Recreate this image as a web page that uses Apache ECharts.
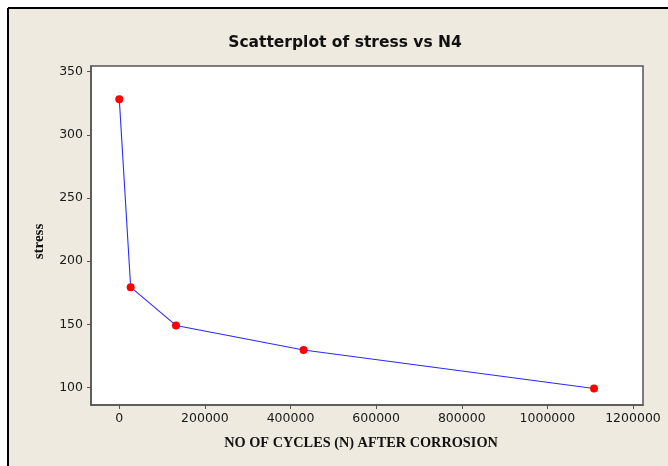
<!DOCTYPE html>
<html>
<head>
<meta charset="utf-8">
<script src="https://cdn.jsdelivr.net/npm/echarts@6/dist/echarts.min.js"></script>
<style>
html,body{margin:0;padding:0;background:#ffffff;}
#chart{width:668px;height:466px;}
</style>
</head>
<body>
<div id="chart"></div>
<script>
// Data
var cycles = [0, 26600, 132400, 430500, 1109000];
var stress = [328.2, 179.4, 149.1, 129.6, 99.2];
var xTicks = [0, 200000, 400000, 600000, 800000, 1000000, 1200000];
var yTicks = [100, 150, 200, 250, 300, 350];

var points = cycles.map(function (c, i) { return [c, stress[i]]; });

var chart = echarts.init(document.getElementById('chart'), null, {renderer: 'canvas'});
var axisColor = '#555555';
var labelStyle = {color: '#1a1a1a', fontFamily: 'DejaVu Sans', fontSize: 12.5};

chart.setOption({
  animation: false,
  backgroundColor: '#ffffff',
  graphic: [
    {type: 'rect', z: -10, shape: {x: 8, y: 8, width: 660, height: 458},
     style: {fill: '#EEEAE0', stroke: null}},
    {type: 'line', z: -5, shape: {x1: 8, y1: 8, x2: 668, y2: 8},
     style: {stroke: '#000000', lineWidth: 2}},
    {type: 'line', z: -5, shape: {x1: 8, y1: 8, x2: 8, y2: 466},
     style: {stroke: '#000000', lineWidth: 2}},
    {type: 'text', z: 10, x: 345, y: 43,
     style: {text: 'Scatterplot of stress vs N4', fill: '#111111',
             font: 'bold 15.5px "DejaVu Sans"', align: 'center', verticalAlign: 'middle'}}
  ],
  grid: {
    left: 91, right: 25, top: 66, bottom: 61,
    show: true, backgroundColor: '#ffffff', borderColor: axisColor, borderWidth: 1.5
  },
  xAxis: {
    type: 'value',
    min: -66100, max: 1223400,
    name: 'NO OF CYCLES (N) AFTER CORROSION',
    nameLocation: 'middle', nameGap: 31,
    nameTextStyle: {fontFamily: 'Liberation Serif', fontWeight: 'bold', fontSize: 14.3, color: '#111111', padding: [0, 12, 0, 0]},
    splitLine: {show: false},
    axisLine: {show: true, onZero: false, lineStyle: {color: axisColor, width: 1.5}},
    axisTick: {show: true, length: 4, customValues: xTicks, lineStyle: {color: axisColor}},
    axisLabel: Object.assign({margin: 7, customValues: xTicks, formatter: function (v) { return String(v); }}, labelStyle)
  },
  yAxis: {
    type: 'value',
    min: 86.1, max: 354.5,
    name: 'stress',
    nameLocation: 'middle', nameGap: 44,
    nameTextStyle: {fontFamily: 'Liberation Serif', fontWeight: 'bold', fontSize: 15, color: '#111111', padding: [0, 12, 0, 0]},
    splitLine: {show: false},
    axisLine: {show: true, onZero: false, lineStyle: {color: axisColor, width: 1.5}},
    axisTick: {show: true, length: 4, customValues: yTicks, lineStyle: {color: axisColor}},
    axisLabel: Object.assign({margin: 8, customValues: yTicks}, labelStyle)
  },
  series: [{
    type: 'line',
    data: points,
    symbol: 'circle',
    symbolSize: 8,
    lineStyle: {color: '#2a2aff', width: 1.1},
    itemStyle: {color: '#ff0000', borderWidth: 0}
  }]
});
</script>
</body>
</html>
